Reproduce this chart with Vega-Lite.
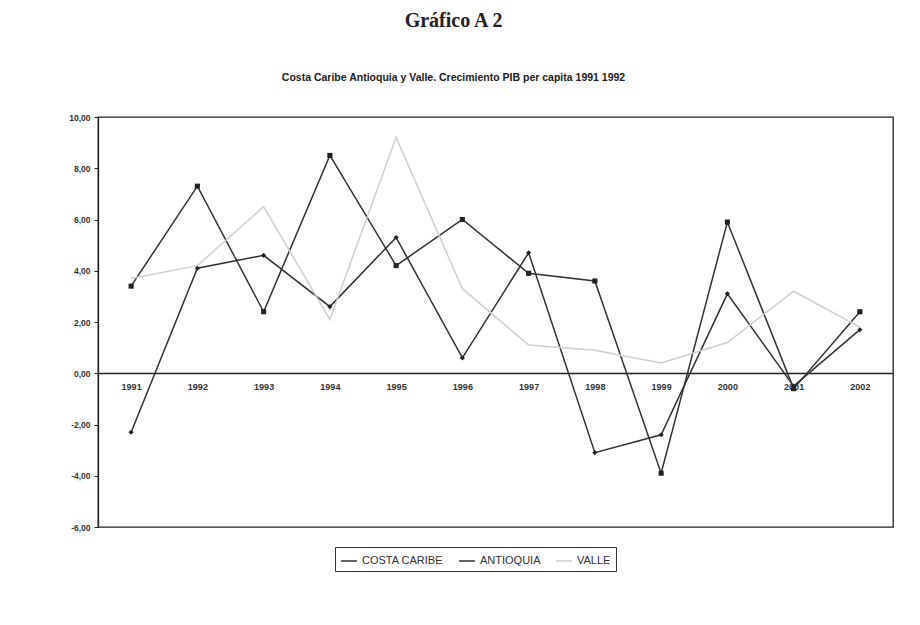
{
  "$schema": "https://vega.github.io/schema/vega-lite/v6.json",
  "width": 795,
  "height": 410,
  "autosize": {"type": "none"},
  "padding": {"left": 98, "top": 117, "right": 27, "bottom": 98},
  "background": "#ffffff",
  "title": {
    "text": "Gráfico A 2",
    "subtitle": "Costa Caribe Antioquia y Valle. Crecimiento PIB per capita 1991 1992",
    "anchor": "middle",
    "dx": -42,
    "offset": 30,
    "font": "Liberation Serif",
    "fontSize": 20,
    "fontWeight": "bold",
    "color": "#222222",
    "subtitleFont": "Liberation Sans",
    "subtitleFontSize": 10.5,
    "subtitleFontWeight": "bold",
    "subtitleColor": "#222222",
    "subtitlePadding": 42
  },
  "data": {
    "values": [
      {"year": "1991", "region": "COSTA CARIBE", "value": 3.4},
      {"year": "1992", "region": "COSTA CARIBE", "value": 7.3},
      {"year": "1993", "region": "COSTA CARIBE", "value": 2.4},
      {"year": "1994", "region": "COSTA CARIBE", "value": 8.5},
      {"year": "1995", "region": "COSTA CARIBE", "value": 4.2},
      {"year": "1996", "region": "COSTA CARIBE", "value": 6.0},
      {"year": "1997", "region": "COSTA CARIBE", "value": 3.9},
      {"year": "1998", "region": "COSTA CARIBE", "value": 3.6},
      {"year": "1999", "region": "COSTA CARIBE", "value": -3.9},
      {"year": "2000", "region": "COSTA CARIBE", "value": 5.9},
      {"year": "2001", "region": "COSTA CARIBE", "value": -0.6},
      {"year": "2002", "region": "COSTA CARIBE", "value": 2.4},
      {"year": "1991", "region": "ANTIOQUIA", "value": -2.3},
      {"year": "1992", "region": "ANTIOQUIA", "value": 4.1},
      {"year": "1993", "region": "ANTIOQUIA", "value": 4.6},
      {"year": "1994", "region": "ANTIOQUIA", "value": 2.6},
      {"year": "1995", "region": "ANTIOQUIA", "value": 5.3},
      {"year": "1996", "region": "ANTIOQUIA", "value": 0.6},
      {"year": "1997", "region": "ANTIOQUIA", "value": 4.7},
      {"year": "1998", "region": "ANTIOQUIA", "value": -3.1},
      {"year": "1999", "region": "ANTIOQUIA", "value": -2.4},
      {"year": "2000", "region": "ANTIOQUIA", "value": 3.1},
      {"year": "2001", "region": "ANTIOQUIA", "value": -0.5},
      {"year": "2002", "region": "ANTIOQUIA", "value": 1.7},
      {"year": "1991", "region": "VALLE", "value": 3.7},
      {"year": "1992", "region": "VALLE", "value": 4.2},
      {"year": "1993", "region": "VALLE", "value": 6.5},
      {"year": "1994", "region": "VALLE", "value": 2.1},
      {"year": "1995", "region": "VALLE", "value": 9.2},
      {"year": "1996", "region": "VALLE", "value": 3.3},
      {"year": "1997", "region": "VALLE", "value": 1.1},
      {"year": "1998", "region": "VALLE", "value": 0.9},
      {"year": "1999", "region": "VALLE", "value": 0.4},
      {"year": "2000", "region": "VALLE", "value": 1.2},
      {"year": "2001", "region": "VALLE", "value": 3.2},
      {"year": "2002", "region": "VALLE", "value": 1.8}
    ]
  },
  "encoding": {
    "x": {
      "field": "year",
      "type": "ordinal",
      "title": null,
      "scale": {"type": "point", "padding": 0.5},
      "axis": {
        "orient": "bottom",
        "offset": -154,
        "domainColor": "#222222",
        "domainWidth": 1.3,
        "ticks": false,
        "labelAngle": 0,
        "labelPadding": 9,
        "labelFont": "Liberation Sans",
        "labelFontSize": 9,
        "labelFontWeight": "bold",
        "labelColor": "#333333"
      }
    },
    "y": {
      "field": "value",
      "type": "quantitative",
      "title": null,
      "scale": {"domain": [-6, 10], "nice": false, "zero": false},
      "axis": {
        "values": [-6, -4, -2, 0, 2, 4, 6, 8, 10],
        "labelExpr": "replace(replace(format(datum.value, '.2f'), '.', ','), '−', '-')",
        "grid": false,
        "domainColor": "#222222",
        "domainWidth": 1.3,
        "tickColor": "#222222",
        "tickSize": 4,
        "labelPadding": 4,
        "labelFont": "Liberation Sans",
        "labelFontSize": 8.5,
        "labelFontWeight": "bold",
        "labelColor": "#333333"
      }
    }
  },
  "layer": [
    {
      "mark": {"type": "line", "strokeWidth": 1.5},
      "encoding": {
        "color": {
          "field": "region",
          "type": "nominal",
          "scale": {
            "domain": ["COSTA CARIBE", "ANTIOQUIA", "VALLE"],
            "range": ["#333333", "#333333", "#cfcfcf"]
          },
          "legend": {
            "title": null,
            "orient": "none",
            "legendX": 237,
            "legendY": 430,
            "direction": "horizontal",
            "symbolType": "stroke",
            "symbolSize": 250,
            "symbolStrokeWidth": 1.5,
            "strokeColor": "#333333",
            "padding": 5,
            "columnPadding": 12,
            "labelFont": "Liberation Sans",
            "labelFontSize": 11,
            "labelColor": "#333333"
          }
        }
      }
    },
    {
      "transform": [{"filter": "datum.region !== 'VALLE'"}],
      "mark": {"type": "point", "filled": true, "opacity": 1, "color": "#222222"},
      "encoding": {
        "shape": {
          "field": "region",
          "type": "nominal",
          "scale": {"domain": ["COSTA CARIBE", "ANTIOQUIA"], "range": ["square", "diamond"]},
          "legend": null
        },
        "size": {"value": 26}
      }
    }
  ],
  "config": {
    "view": {"stroke": "#222222", "strokeWidth": 1.3}
  }
}
